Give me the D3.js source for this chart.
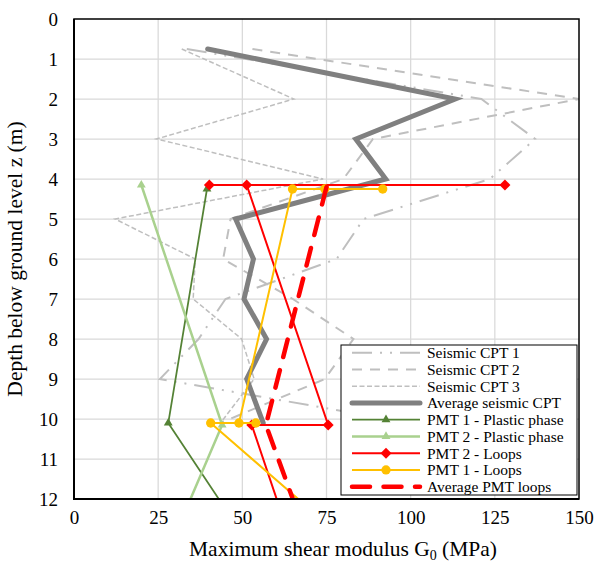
<!DOCTYPE html>
<html>
<head>
<meta charset="utf-8">
<script src="https://cdn.jsdelivr.net/npm/d3@7"></script>
<style>
  body { margin: 0; background: #fff; }
  svg text { font-family: "Liberation Serif", "Times New Roman", serif; fill: #000; }
  .gridline { stroke: #d9d9d9; stroke-width: 1.25; }
</style>
</head>
<body>
<div id="chart"></div>
<script>
// depth (m) of each seismic CPT reading
const cptDepths = [0.75, 2, 3, 4, 5, 6, 7, 8, 9, 10.1];
const seismicCpt1 = [33.5, 121, 137, 123.5, 86, 78, 45, 37, 25.5, 100];
const seismicCpt2 = [53, 150, 88.8, 80, 46.5, 44.3, 65, 83, 74.5, 43.5];
const seismicCpt3 = [32, 65.3, 24.5, 74, 12.2, 36, 35.4, 49.8, 53.5, 43.5];
const averageSeismicCpt = [39.7, 113.2, 83.7, 92.6, 48, 53.3, 50.5, 57.2, 51.3, 56.2];

// pressuremeter tests
const pmt1PlasticDepths = [4.25, 10.1, 12];
const pmt1Plastic = [39.5, 28, 43];
const pmt2PlasticDepths = [4.15, 10.15, 12];
const pmt2Plastic = [20, 44, 34.6];
const pmt2LoopDepths = [4.15, 4.15, 4.15, 10.15, 10.15, 12];
const pmt2Loops = [128, 40.2, 51.3, 75.5, 52.8, 60.2];
const pmt1LoopDepths = [4.25, 4.25, 4.25, 10.1, 10.1, 10.1, 12];
const pmt1Loops = [91.7, 74.5, 64.9, 49, 54, 40.6, 66.6];
const avgPmtDepths = [4.2, 10.15, 12];
const averagePmtLoops = [75, 57, 65];

const xTicks = [0, 25, 50, 75, 100, 125, 150];
const yTicks = [0, 1, 2, 3, 4, 5, 6, 7, 8, 9, 10, 11, 12];

const zip = (depths, values) => values.map((v, i) => ({ g0: v, depth: depths[i] }));

class DepthProfileChart {

  constructor(_config) {
    this.config = {
      parentElement: _config.parentElement,
      containerWidth: 603,
      containerHeight: 563
    }
    this.config.margin = _config.margin || { top: 19, bottom: 64, right: 24, left: 74 };
    this.series = _config.series;

    this.initVis();
  }

  initVis() {
    let vis = this;

    vis.config.width = vis.config.containerWidth - vis.config.margin.left - vis.config.margin.right;
    vis.config.height = vis.config.containerHeight - vis.config.margin.top - vis.config.margin.bottom;

    vis.svg = d3.select(vis.config.parentElement).append("svg")
        .attr("width", vis.config.containerWidth)
        .attr("height", vis.config.containerHeight);

    vis.chart = vis.svg.append("g")
        .attr("transform", "translate(" + vis.config.margin.left + "," + vis.config.margin.top + ")");

    vis.xScale = d3.scaleLinear().domain([0, 150]).range([0, vis.config.width]);
    vis.yScale = d3.scaleLinear().domain([0, 12]).range([0, vis.config.height]);

    vis.svg.append("clipPath").attr("id", "plot-clip")
      .append("rect")
        .attr("width", vis.config.width)
        .attr("height", vis.config.height);

    vis.updateVis();
  }

  updateVis() {
    let vis = this;
    const w = vis.config.width, h = vis.config.height;

    // grid
    vis.chart.selectAll(".gridline-x")
        .data(xTicks.slice(1, -1))
      .join("line")
        .attr("class", "gridline gridline-x")
        .attr("x1", d => vis.xScale(d)).attr("x2", d => vis.xScale(d))
        .attr("y1", 0).attr("y2", h);

    vis.chart.selectAll(".gridline-y")
        .data(yTicks.slice(1, -1))
      .join("line")
        .attr("class", "gridline gridline-y")
        .attr("y1", d => vis.yScale(d)).attr("y2", d => vis.yScale(d))
        .attr("x1", 0).attr("x2", w);

    // axes (labels only, no tick marks)
    const xAxis = d3.axisBottom(vis.xScale).tickValues(xTicks).tickSize(0).tickPadding(12);
    const yAxis = d3.axisLeft(vis.yScale).tickValues(yTicks).tickSize(0).tickPadding(16);

    vis.chart.append("g")
        .attr("transform", "translate(0," + h + ")")
        .call(xAxis)
        .call(g => g.select(".domain").remove())
      .selectAll("text")
        .style("font-family", "'Liberation Serif', serif")
        .style("font-size", "19px");

    vis.chart.append("g")
        .call(yAxis)
        .call(g => g.select(".domain").remove())
      .selectAll("text")
        .style("font-family", "'Liberation Serif', serif")
        .style("font-size", "19px");

    // series
    const line = d3.line()
        .x(d => vis.xScale(d.g0))
        .y(d => vis.yScale(d.depth));

    const plot = vis.chart.append("g").attr("clip-path", "url(#plot-clip)");

    vis.series.forEach(s => {
      const pts = zip(s.depths, s.values);
      plot.append("path")
          .datum(pts)
          .attr("fill", "none")
          .attr("stroke", s.color)
          .attr("stroke-width", s.width)
          .attr("stroke-dasharray", s.dash || null)
          .attr("stroke-linecap", s.cap || "butt")
          .attr("stroke-linejoin", "miter")
          .attr("d", line);

      if (s.marker) {
        plot.selectAll(null)
            .data(pts.filter(d => d.depth < 12))
          .join("path")
            .attr("fill", s.color)
            .attr("transform", d => "translate(" + vis.xScale(d.g0) + "," + vis.yScale(d.depth) + ")" + (s.marker.rotate ? " rotate(45)" : ""))
            .attr("d", d3.symbol().type(s.marker.type).size(s.marker.size));
      }
    });

    // frame
    vis.chart.append("rect")
        .attr("width", w).attr("height", h)
        .attr("fill", "none")
        .attr("stroke", "#000")
        .attr("stroke-width", 1.5);
    vis.chart.append("path")
        .attr("d", "M0,0V" + h + "H" + w)
        .attr("fill", "none")
        .attr("stroke", "#000")
        .attr("stroke-width", 2);

    // axis titles
    const xTitle = vis.chart.append("text")
        .attr("x", 343 - vis.config.margin.left)
        .attr("y", h + 57)
        .attr("text-anchor", "middle")
        .style("font-size", "21.5px");
    xTitle.append("tspan").text("Maximum shear modulus G");
    xTitle.append("tspan").style("font-size", "14px").attr("dy", 4).text("0");
    xTitle.append("tspan").attr("dy", -4).text(" (MPa)");

    vis.chart.append("text")
        .attr("transform", "translate(-52," + (h / 2) + ") rotate(-90)")
        .attr("text-anchor", "middle")
        .style("font-size", "21.5px")
        .text("Depth below ground level z (m)");

    vis.drawLegend();
  }

  drawLegend() {
    let vis = this;
    const lx = 341 - vis.config.margin.left, ly = 345 - vis.config.margin.top;
    const legend = vis.chart.append("g").attr("transform", "translate(" + lx + "," + ly + ")");

    legend.append("rect")
        .attr("width", 236).attr("height", 150)
        .attr("fill", "#fff")
        .attr("stroke", "#000")
        .attr("stroke-width", 1);

    const row = legend.selectAll(".legend-row")
        .data(vis.series)
      .join("g")
        .attr("class", "legend-row")
        .attr("transform", (d, i) => "translate(0," + (7.7 + i * 16.75) + ")");

    row.append("line")
        .attr("x1", 11).attr("x2", 79)
        .attr("stroke", d => d.color)
        .attr("stroke-width", d => d.width)
        .attr("stroke-dasharray", d => d.dash || null)
        .attr("stroke-linecap", d => d.cap || "butt");

    row.filter(d => d.marker).append("path")
        .attr("fill", d => d.color)
        .attr("transform", d => "translate(45,0)" + (d.marker.rotate ? " rotate(45)" : ""))
        .attr("d", d => d3.symbol().type(d.marker.type).size(d.marker.size)());

    row.append("text")
        .attr("x", 86)
        .attr("dy", "0.35em")
        .style("font-size", "15.5px")
        .text(d => d.name);
  }
}

const triangle = { type: d3.symbolTriangle, size: 34 };

new DepthProfileChart({
  parentElement: "#chart",
  series: [
    { name: "Seismic CPT 1", depths: cptDepths, values: seismicCpt1, color: "#bfbfbf", width: 2, dash: "20,8,2,8,2,8" },
    { name: "Seismic CPT 2", depths: cptDepths, values: seismicCpt2, color: "#bfbfbf", width: 2, dash: "10,8" },
    { name: "Seismic CPT 3", depths: cptDepths, values: seismicCpt3, color: "#bfbfbf", width: 1.5, dash: "5,2.5" },
    { name: "Average seismic CPT", depths: cptDepths, values: averageSeismicCpt, color: "#808080", width: 5, cap: "round" },
    { name: "PMT 1 - Plastic phase", depths: pmt1PlasticDepths, values: pmt1Plastic, color: "#548235", width: 1.75, marker: triangle },
    { name: "PMT 2 - Plastic phase", depths: pmt2PlasticDepths, values: pmt2Plastic, color: "#a9d18e", width: 2.5, marker: triangle },
    { name: "PMT 2 - Loops", depths: pmt2LoopDepths, values: pmt2Loops, color: "#ff0000", width: 2, marker: { type: d3.symbolSquare, size: 60, rotate: true } },
    { name: "PMT 1 - Loops", depths: pmt1LoopDepths, values: pmt1Loops, color: "#ffc000", width: 2, marker: { type: d3.symbolCircle, size: 68 } },
    { name: "Average PMT loops", depths: avgPmtDepths, values: averagePmtLoops, color: "#ff0000", width: 4.5, dash: "18,13.5", cap: "round" }
  ]
});
</script>
</body>
</html>
